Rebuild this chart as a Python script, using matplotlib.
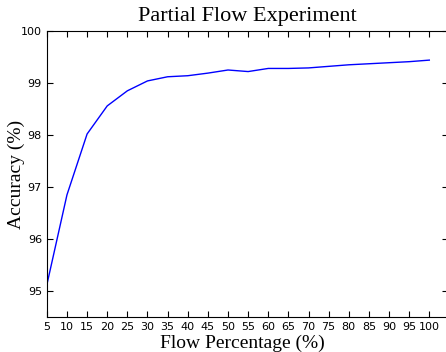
import numpy as np
import matplotlib
matplotlib.use('Agg')
from matplotlib import pyplot as plt

# flow percentage vs accuracy
flow_pct = [5, 10, 15, 20, 25, 30, 35, 40, 45, 50, 55, 60, 65, 70, 75, 80, 85, 90, 95, 100]
accuracy = [95.12, 96.85, 98.02, 98.56, 98.85, 99.04, 99.12, 99.14, 99.19, 99.25,
            99.22, 99.28, 99.28, 99.29, 99.32, 99.35, 99.37, 99.39, 99.41, 99.44]
xticks = list(range(5, 101, 5))

fig = plt.figure(figsize=(4.46, 3.52), dpi=100)
ax = fig.add_axes([0.105, 0.099, 0.9, 0.813])
ax.plot(flow_pct, accuracy, color='blue', linewidth=1)

ax.set_xlim(5, 104.7)
ax.set_ylim(94.5, 100)
ax.set_xticks(xticks)
ax.set_yticks([95, 96, 97, 98, 99, 100])
ax.tick_params(direction='in', top=True, right=True, length=4, labelsize=8)

serif = ['Liberation Serif', 'DejaVu Serif']
ax.set_title('Partial Flow Experiment', family=serif, fontsize=16, pad=7)
ax.set_xlabel('Flow Percentage (%)', family=serif, fontsize=14)
ax.xaxis.set_label_coords(0.487, -0.06)
ax.xaxis.label.set_va('top')
ax.set_ylabel('Accuracy (%)', family=serif, fontsize=14)
ax.yaxis.set_label_coords(-0.055, 0.5)

fig.savefig('out.png', dpi=100)
